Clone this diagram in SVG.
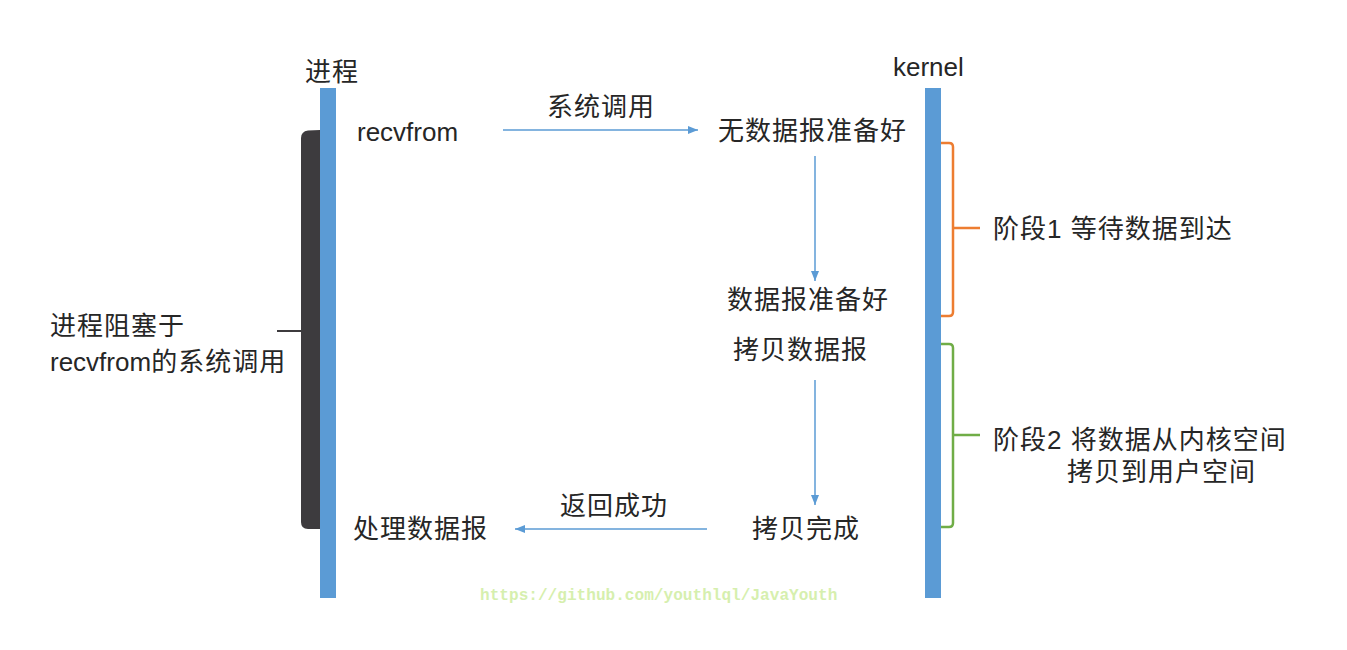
<svg xmlns="http://www.w3.org/2000/svg" width="1347" height="650" viewBox="0 0 1347 650">
<defs>
<marker id="ah" viewBox="0 0 10 10" refX="10" refY="5" markerWidth="10" markerHeight="10" markerUnits="userSpaceOnUse" orient="auto">
<path d="M0,1 L10,5 L0,9 Z" fill="#5B9BD5"/>
</marker>
<style>
.t{font-family:"Liberation Sans","Noto Sans CJK SC",sans-serif;font-size:26px;fill:#262626}
.c{letter-spacing:1px}
.bar{fill:#5B9BD5}
.conn{stroke:#5B9BD5;stroke-width:1.5;fill:none;marker-end:url(#ah)}
.br{fill:none;stroke-width:2.5}
</style>
</defs>
<rect width="1347" height="650" fill="#ffffff"/>
<g id="process">
<rect class="bar" x="320" y="88" width="16" height="510"/>
<text class="t c" x="305" y="81">进程</text>
</g>
<g id="kernel">
<rect class="bar" x="925" y="88" width="16" height="510"/>
<text class="t" x="893" y="76">kernel</text>
</g>
<g id="block">
<path d="M320,130 L308,130.5 Q301,131.5 301,138 L301,522 Q301,529 308,529 L320,529 Z" fill="#3d3b3e"/>
<path d="M277,331 L301,331" fill="none" stroke="#3d3b3e" stroke-width="2"/>
<text class="t c" x="50" y="335">进程阻塞于</text>
<text class="t" x="50" y="371">recvfrom<tspan class="c">的系统调用</tspan></text>
</g>
<g id="recvfrom"><text class="t" x="357" y="141">recvfrom</text></g>
<g id="nodata"><text class="t c" x="718" y="140">无数据报准备好</text></g>
<g id="ready"><text class="t c" x="727" y="309">数据报准备好</text></g>
<g id="copy"><text class="t c" x="733" y="359">拷贝数据报</text></g>
<g id="copydone"><text class="t c" x="752" y="538">拷贝完成</text></g>
<g id="handle"><text class="t c" x="353" y="538">处理数据报</text></g>
<g id="stage1">
<path class="br" stroke="#ED7D31" d="M941,143 L949,143 Q953,143 953,147 L953,312 Q953,316 949,316 L941,316 M953,228 L980,228"/>
<text class="t c" x="993" y="238">阶段1 等待数据到达</text>
</g>
<g id="stage2">
<path class="br" stroke="#70AD47" d="M941,344 L949,344 Q953,344 953,348 L953,523 Q953,527 949,527 L941,527 M953,435 L980,435"/>
<text class="t c" x="993" y="449">阶段2 将数据从内核空间</text>
<text class="t c" x="1067" y="481">拷贝到用户空间</text>
</g>
<g id="connectors">
<line class="conn" x1="503" y1="130" x2="698" y2="130"/>
<text class="t c" x="547" y="116">系统调用</text>
<line class="conn" x1="815" y1="156" x2="815" y2="281"/>
<line class="conn" x1="815" y1="380" x2="815" y2="505"/>
<line class="conn" x1="707" y1="529" x2="515" y2="529"/>
<text class="t c" x="560" y="515">返回成功</text>
</g>
<text x="480" y="600" font-family="Liberation Mono, monospace" font-size="16.1" font-weight="bold" fill="#d6efae">https://github.com/youthlql/JavaYouth</text>
</svg>
